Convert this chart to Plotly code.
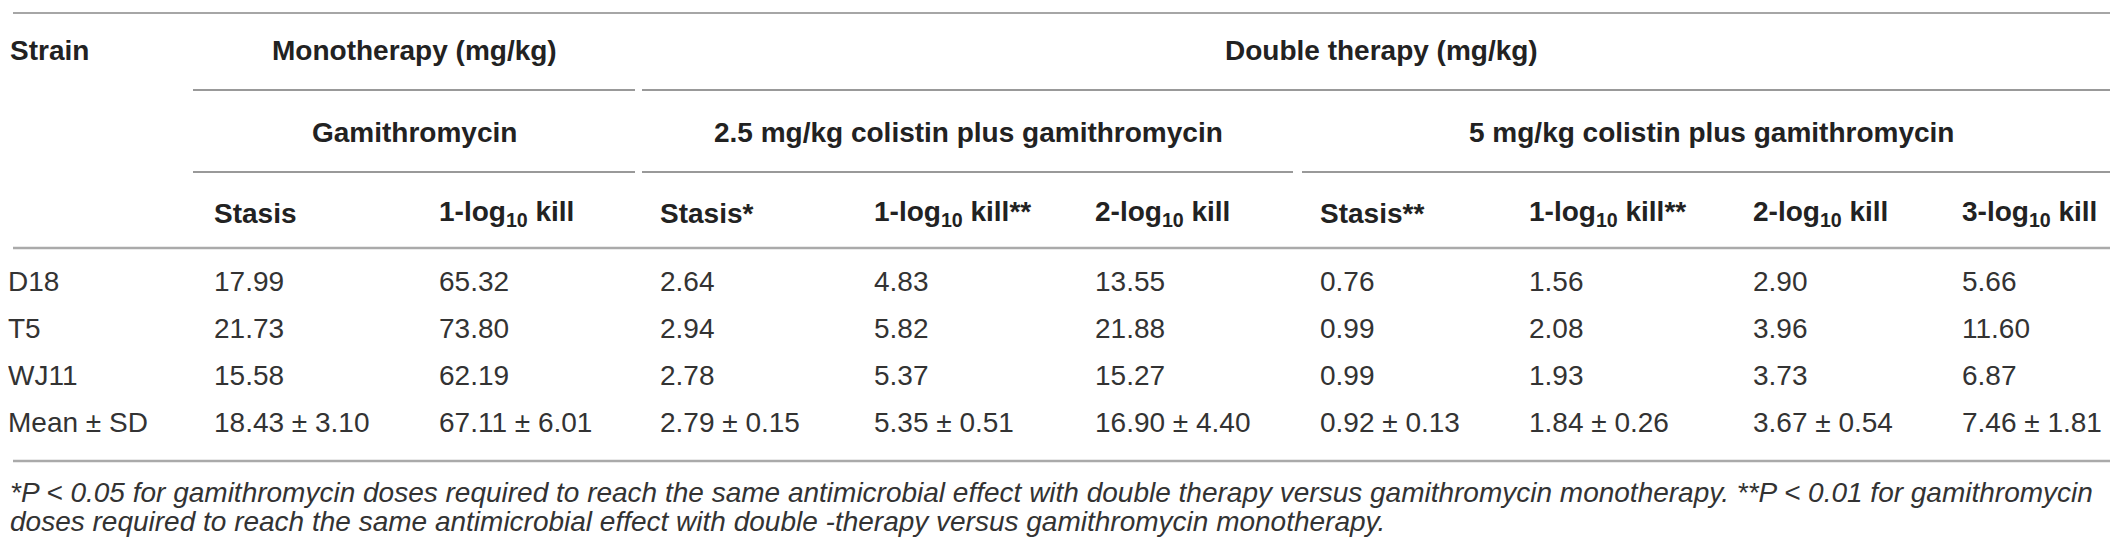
import plotly.graph_objects as go

# table content
strains = ["D18", "T5", "WJ11", "Mean ± SD"]

group_top = ["Monotherapy (mg/kg)", "Double therapy (mg/kg)"]
group_mid = ["Gamithromycin", "2.5 mg/kg colistin plus gamithromycin",
             "5 mg/kg colistin plus gamithromycin"]
col_labels = ["Stasis", "1-log<sub>10</sub> kill", "Stasis*", "1-log<sub>10</sub> kill**",
              "2-log<sub>10</sub> kill", "Stasis**", "1-log<sub>10</sub> kill**",
              "2-log<sub>10</sub> kill", "3-log<sub>10</sub> kill"]

gam_stasis = [17.99, 21.73, 15.58]
gam_1log = [65.32, 73.80, 62.19]
c25_stasis = [2.64, 2.94, 2.78]
c25_1log = [4.83, 5.82, 5.37]
c25_2log = [13.55, 21.88, 15.27]
c5_stasis = [0.76, 0.99, 0.99]
c5_1log = [1.56, 2.08, 1.93]
c5_2log = [2.90, 3.96, 3.73]
c5_3log = [5.66, 11.60, 6.87]

means = [18.43, 67.11, 2.79, 5.35, 16.90, 0.92, 1.84, 3.67, 7.46]
sds = [3.10, 6.01, 0.15, 0.51, 4.40, 0.13, 0.26, 0.54, 1.81]

footnote = [
    "*P < 0.05 for gamithromycin doses required to reach the same antimicrobial effect with double therapy versus gamithromycin monotherapy. **P < 0.01 for gamithromycin",
    "doses required to reach the same antimicrobial effect with double -therapy versus gamithromycin monotherapy.",
]

columns = [gam_stasis, gam_1log, c25_stasis, c25_1log, c25_2log,
           c5_stasis, c5_1log, c5_2log, c5_3log]

# layout (pixels)
W, H = 2118, 539
col_x = [212, 437, 658, 872, 1093, 1318, 1527, 1751, 1960]
row_y = [276, 323, 370, 417]
FONT = "Liberation Sans"

fig = go.Figure()

bfont = dict(family=FONT, size=28, color="#333")

# strain column
fig.add_trace(go.Scatter(x=[0] * len(strains), y=row_y, mode="text", text=strains,
                         textposition="middle right", textfont=bfont, hoverinfo="skip"))

for i, vals in enumerate(columns):
    cells = ["%.2f" % v for v in vals] + ["%.2f ± %.2f" % (means[i], sds[i])]
    fig.add_trace(go.Scatter(x=[col_x[i] - 6] * len(cells), y=row_y, mode="text", text=cells,
                             textposition="middle right", textfont=bfont, hoverinfo="skip"))

hfont = dict(family=FONT, size=28, color="#222", weight="bold")

def note(x, y, txt, anchor="left", font=hfont):
    fig.add_annotation(x=x, y=y, xref="x", yref="y", text=txt, showarrow=False,
                       xanchor=anchor, yanchor="middle", font=font)

note(0, 42, "Strain")
note(406, 42, group_top[0], "center")
note(1373, 42, group_top[1], "center")
note(406, 124, group_mid[0], "center")
note(960, 124, group_mid[1], "center")
note(1703, 124, group_mid[2], "center")
for x, lab in zip(col_x, col_labels):
    note(x - 8, 205, lab)

ffont = dict(family=FONT, size=28, color="#333", style="italic")
note(0, 484, footnote[0], font=ffont)
note(0, 513, footnote[1], font=ffont)

def hline(x0, x1, y, color, w):
    fig.add_shape(type="line", xref="x", yref="y", x0=x0, x1=x1, y0=y, y1=y,
                  line=dict(color=color, width=w))

hline(5, 2113, 5, "#888", 1.5)
hline(185, 627, 82, "#777", 1.5)
hline(634, 2113, 82, "#777", 1.5)
hline(185, 627, 164, "#777", 1.5)
hline(634, 1285, 164, "#777", 1.5)
hline(1294, 2113, 164, "#777", 1.5)
hline(5, 2113, 240, "#aaa", 2.5)
hline(5, 2113, 453, "#aaa", 2.5)

fig.update_layout(
    width=W, height=H, margin=dict(l=0, r=0, t=0, b=0),
    plot_bgcolor="white", paper_bgcolor="white", showlegend=False,
    xaxis=dict(range=[0, W], visible=False, fixedrange=True),
    yaxis=dict(range=[H, 0], visible=False, fixedrange=True),
)

fig.write_html("out.html")
